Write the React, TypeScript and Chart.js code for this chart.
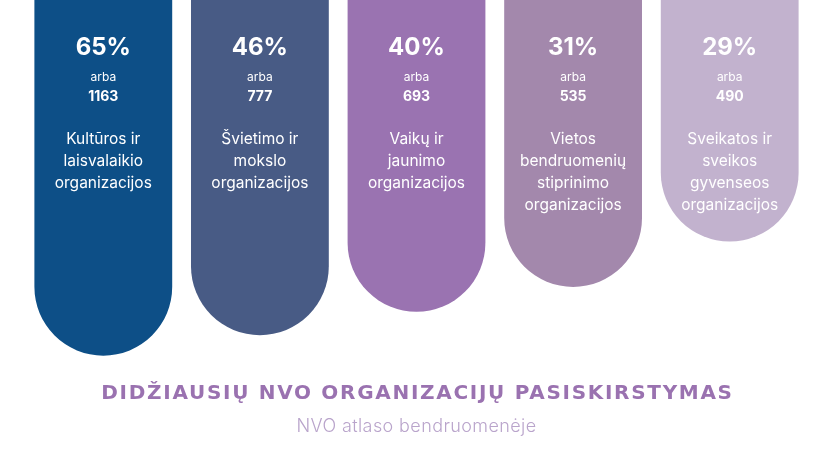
import React, { useEffect, useRef } from "react";
import { Chart, registerables } from "chart.js";

Chart.register(...registerables);

const categories: string[][] = [
  ["Kultūros ir", "laisvalaikio", "organizacijos"],
  ["Švietimo ir", "mokslo", "organizacijos"],
  ["Vaikų ir", "jaunimo", "organizacijos"],
  ["Vietos", "bendruomenių", "stiprinimo", "organizacijos"],
  ["Sveikatos ir", "sveikos", "gyvenseos", "organizacijos"],
];
const percents = [65, 46, 40, 31, 29];
const counts = [1163, 777, 693, 535, 490];
// visual bar length as drawn in the infographic (0–100 scale)
const barLengths = [98.8, 93.1, 86.6, 79.7, 67.1];
const colors = ["#0d4f87", "#485b85", "#9a73b1", "#a388ac", "#c2b2ce"];
const titleText = "DIDŽIAUSIŲ NVO ORGANIZACIJŲ PASISKIRSTYMAS";
const subtitleText = "NVO atlaso bendruomenėje";

const FONT = "Inter, 'Noto Sans', sans-serif";

const textPlugin = {
  id: "barTexts",
  afterDatasetsDraw(chart: any) {
    const { ctx } = chart;
    const meta = chart.getDatasetMeta(0);
    ctx.save();
    ctx.textAlign = "center";
    ctx.textBaseline = "middle";
    ctx.fillStyle = "#ffffff";
    meta.data.forEach((bar: any, i: number) => {
      const x = bar.x;
      ctx.font = `bold 24px ${FONT}`;
      ctx.fillText(`${percents[i]}%`, x, 48);
      ctx.font = `12px ${FONT}`;
      ctx.fillText("arba", x, 77);
      ctx.font = `bold 14px ${FONT}`;
      ctx.fillText(String(counts[i]), x, 97);
      ctx.font = `15.5px ${FONT}`;
      categories[i].forEach((line, j) => {
        ctx.fillText(line, x, 139 + j * 22);
      });
    });
    const cx = (chart.chartArea.left + chart.chartArea.right) / 2;
    ctx.fillStyle = "#9a72b0";
    ctx.font = `bold 20px 'DejaVu Sans', sans-serif`;
    (ctx as any).letterSpacing = "1.7px";
    ctx.fillText(titleText, cx + 1, 394);
    ctx.fillStyle = "#b9a4cb";
    ctx.font = `300 18px ${FONT}`;
    (ctx as any).letterSpacing = "0.4px";
    ctx.fillText(subtitleText, cx, 427);
    (ctx as any).letterSpacing = "0px";
    ctx.restore();
  },
};

export default function App() {
  const ref = useRef<HTMLCanvasElement | null>(null);
  useEffect(() => {
    if (!ref.current) return;
    const chart = new Chart(ref.current, {
      type: "bar",
      data: {
        labels: categories.map((c) => c.join(" ")),
        datasets: [
          {
            data: barLengths,
            backgroundColor: colors,
            borderRadius: 999,
            borderSkipped: "start",
            categoryPercentage: 1,
            barPercentage: 0.88,
          },
        ],
      },
      options: {
        animation: false,
        responsive: false,
        maintainAspectRatio: false,
        layout: { padding: { left: 25, right: 17, top: 0, bottom: 89 } },
        scales: {
          x: { display: false },
          y: { display: false, reverse: true, min: 0, max: 100 },
        },
        plugins: {
          legend: { display: false },
          tooltip: { enabled: false },
          title: { display: false },
        },
      },
      plugins: [textPlugin],
    });
    return () => chart.destroy();
  }, []);
  return (
    <div style={{ position: "absolute", left: 0, top: 0, width: 825, height: 449, background: "#fff" }}>
      <canvas ref={ref} width={825} height={449} />
    </div>
  );
}
